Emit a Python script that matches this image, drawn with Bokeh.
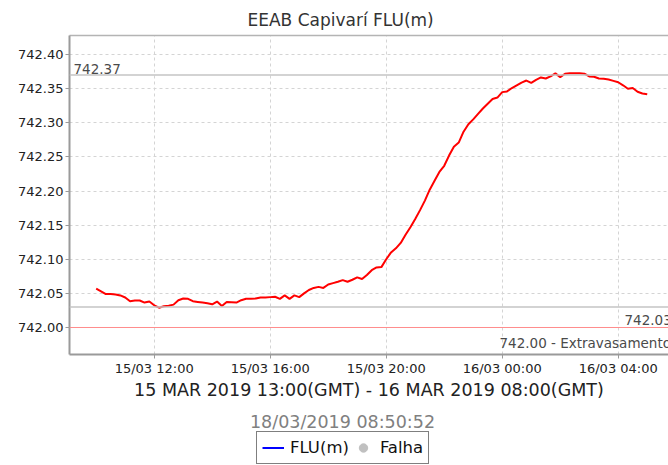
import pandas as pd
from bokeh.plotting import figure
from bokeh.layouts import column
from bokeh.models import (Range1d, FixedTicker, DatetimeTickFormatter, Span, Label, Title,
                          Legend, LegendItem, DatetimeAxis, PrintfTickFormatter)
from bokeh.embed import file_html
from bokeh.resources import INLINE

# ---------------- data ----------------
start_time = "2019-03-15 10:00"
times = pd.date_range(start_time, periods=115, freq="10min")
flu = [
    742.057, 742.053, 742.049, 742.049, 742.0485, 742.047, 742.044, 742.0385, 742.0395, 742.0395,
    742.0365, 742.038, 742.0325, 742.029, 742.031, 742.032, 742.0335, 742.040, 742.0425, 742.042,
    742.0385, 742.0375, 742.0365, 742.0355, 742.034, 742.038, 742.0315, 742.0375, 742.037, 742.0365,
    742.040, 742.042, 742.042, 742.0425, 742.044, 742.044, 742.0445, 742.045, 742.042, 742.047,
    742.042, 742.047, 742.0445, 742.050, 742.055, 742.058, 742.0595, 742.058, 742.063, 742.065,
    742.067, 742.0695, 742.067, 742.070, 742.0735, 742.071, 742.077, 742.084, 742.088, 742.0885,
    742.100, 742.110, 742.116, 742.124, 742.136, 742.147, 742.159, 742.172, 742.186, 742.202,
    742.215, 742.228, 742.237, 742.252, 742.265, 742.271, 742.287, 742.298, 742.305, 742.313,
    742.321, 742.328, 742.335, 742.337, 742.345, 742.346, 742.351, 742.355, 742.359, 742.362,
    742.3585, 742.363, 742.3665, 742.365, 742.368, 742.3725, 742.367, 742.372, 742.3725, 742.3725,
    742.3725, 742.372, 742.368, 742.3675, 742.365, 742.3645, 742.3635, 742.3615, 742.3595, 742.355,
    742.350, 742.351, 742.3455, 742.343, 742.342,
]
x_ticks = ["2019-03-15 12:00", "2019-03-15 16:00", "2019-03-15 20:00",
           "2019-03-16 00:00", "2019-03-16 04:00"]
y_ticks = [742.00, 742.05, 742.10, 742.15, 742.20, 742.25, 742.30, 742.35, 742.40]
ref_high = 742.37
ref_low = 742.03
ref_overflow = 742.00
title_text = "EEAB Capivarí FLU(m)"
period_text = "15 MAR 2019 13:00(GMT) - 16 MAR 2019 08:00(GMT)"
stamp_text = "18/03/2019 08:50:52"
legend_labels = ["FLU(m)", "Falha"]
x_start = pd.Timestamp("2019-03-15 09:04:45")
x_end = pd.Timestamp("2019-03-16 05:44:00")
y_start, y_end = 741.9604, 742.428

FONT = "DejaVu Sans"

def ms(t):
    return pd.Timestamp(t).value // 10**6

# ---------------- main chart ----------------
p = figure(width=668, height=406, x_axis_type="datetime",
           x_range=Range1d(x_start, x_end), y_range=Range1d(y_start, y_end),
           output_backend="svg", toolbar_location=None,
           min_border_left=69, min_border_right=0, min_border_top=35, min_border_bottom=52)
p.outline_line_color = None
p.background_fill_color = "white"
p.border_fill_color = "white"

p.title = Title(text=title_text, align="left", offset=178, standoff=12,
                text_font=FONT, text_font_size="17px", text_color="#333333",
                text_font_style="normal")

p.xgrid.grid_line_color = "#d4d4d4"
p.xgrid.grid_line_dash = "3 3"
p.ygrid.grid_line_color = "#d4d4d4"
p.ygrid.grid_line_dash = "3 3"

p.xaxis.ticker = FixedTicker(ticks=[ms(t) for t in x_ticks])
fmt = "%d/%m %H:%M"
p.xaxis.formatter = DatetimeTickFormatter(microseconds=fmt, milliseconds=fmt, seconds=fmt,
                                          minsec=fmt, minutes=fmt, hourmin=fmt, hours=fmt,
                                          days=fmt, months=fmt, years=fmt)
p.yaxis.ticker = FixedTicker(ticks=y_ticks)
p.yaxis.formatter = PrintfTickFormatter(format="%.2f")
for ax in (p.xaxis[0], p.yaxis[0]):
    ax.axis_line_color = "#9a9a9a"
    ax.axis_line_width = 2
    ax.major_tick_line_color = "#9a9a9a"
    ax.major_tick_line_width = 1
    ax.major_tick_in = 0
    ax.major_tick_out = 4
    ax.minor_tick_line_color = None
    ax.minor_tick_out = 0
    ax.major_label_text_font = FONT
    ax.major_label_text_font_size = "13px"
    ax.major_label_text_color = "#222222"
p.xaxis.major_label_standoff = 2
p.yaxis.major_label_standoff = 2
p.xaxis.axis_label = period_text
p.xaxis.axis_label_text_font = FONT
p.xaxis.axis_label_text_font_size = "17.5px"
p.xaxis.axis_label_text_font_style = "normal"
p.xaxis.axis_label_text_color = "#222222"
p.xaxis.axis_label_standoff = 1

top_ax = DatetimeAxis(ticker=FixedTicker(ticks=[]), axis_line_color="#b4b4b4",
                      axis_line_width=1.5, major_tick_line_color=None, major_tick_out=0,
                      minor_tick_line_color=None, minor_tick_out=0,
                      major_label_standoff=0, major_label_text_font_size="0px")
p.add_layout(top_ax, "above")

p.add_layout(Span(location=ref_high, dimension="width", line_color="#c4c4c4", line_width=1.5))
p.add_layout(Span(location=ref_low, dimension="width", line_color="#c4c4c4", line_width=1.5))
p.add_layout(Span(location=ref_overflow, dimension="width", line_color="#ff8c8c", line_width=1))

lbl_style = dict(text_font=FONT, text_font_size="13.5px", text_color="#4a4a4a",
                 text_baseline="alphabetic", text_align="left")
p.add_layout(Label(x=4, x_units="screen", y=ref_high, y_offset=6, text=f"{ref_high:.2f}", **lbl_style))
p.add_layout(Label(x=555, x_units="screen", y=ref_low, y_offset=-13, text=f"{ref_low:.2f}", **lbl_style))
p.add_layout(Label(x=430, x_units="screen", y=ref_overflow, y_offset=-16,
                   text=f"{ref_overflow:.2f} - Extravasamento", **lbl_style))

p.line(times, flu, line_color="#ff0000", line_width=2)

# ---------------- footer: timestamp + legend ----------------
# footer frame spans page x 69..668 and page y 406..465 (y measured upward from the bottom)
q = figure(width=668, height=59, x_range=Range1d(69, 668), y_range=Range1d(0, 59),
           output_backend="svg", toolbar_location=None,
           min_border_left=69, min_border_right=0, min_border_top=0, min_border_bottom=0)
q.axis.visible = False
q.grid.visible = False
q.outline_line_color = None
q.background_fill_color = "white"
q.border_fill_color = "white"

q.add_layout(Label(x=342, y=44, text=stamp_text,
                   text_font=FONT, text_font_size="17.5px", text_color="#808080",
                   text_align="center", text_baseline="alphabetic"))

r_flu = q.line([float("nan")], [float("nan")], line_color="#0000ff", line_width=2)
r_falha = q.scatter([float("nan")], [float("nan")], marker="circle", size=10,
                    fill_color="#c0c0c0", line_color="#c0c0c0")
legend = Legend(items=[LegendItem(label=legend_labels[0], renderers=[r_flu]),
                       LegendItem(label=legend_labels[1], renderers=[r_falha])],
                orientation="horizontal", location=(187, 1),
                border_line_color="black", border_line_width=1.5,
                background_fill_color="white", background_fill_alpha=1,
                label_text_font=FONT, label_text_font_size="16.5px", label_text_color="#111111",
                glyph_width=22, glyph_height=21, label_height=21, label_standoff=6,
                spacing=3, padding=5, margin=0)
q.add_layout(legend, "center")

open("out.html", "w").write(file_html(column(p, q, spacing=0), INLINE))
